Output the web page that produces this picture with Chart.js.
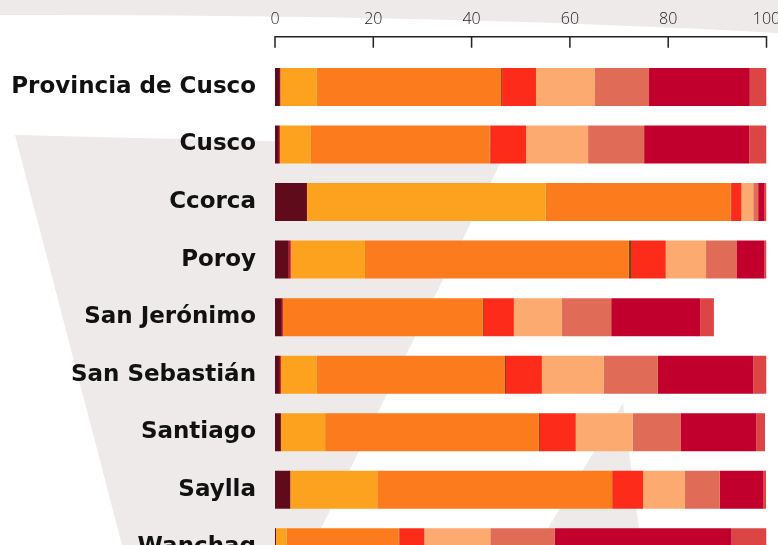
<!DOCTYPE html>
<html>
<head>
<meta charset="utf-8">
<script src="https://cdn.jsdelivr.net/npm/chart.js@4.4.0/dist/chart.umd.min.js"></script>
<style>
    html, body { margin: 0; padding: 0; background: #ffffff; overflow: hidden; }
    #barChart { display: block; }
</style>
</head>
<body>
<canvas id="barChart" width="778" height="545"></canvas>
<script>
// Données (en %)
const districts = ["Provincia de Cusco", "Cusco", "Ccorca", "Poroy", "San Jerónimo",
    "San Sebastián", "Santiago", "Saylla", "Wanchaq"];

const xTicks = [0, 20, 40, 60, 80, 100];

const serie1 = [1.0, 0.8, 6.5, 2.8, 1.4, 1.0, 1.2, 3.1, 0.2];
const serie2 = [0.1, 0.2, 0, 0.4, 0.2, 0.2, 0, 0, 0];
const serie3 = [7.4, 6.3, 48.6, 15.1, 0, 7.3, 9.0, 17.7, 2.2];
const serie4 = [37.5, 36.4, 37.6, 53.7, 40.7, 38.3, 43.5, 47.8, 22.8];
const serie5 = [0.2, 0.1, 0.1, 0.6, 0.2, 0.2, 0.2, 0, 0.1];
const serie6 = [6.9, 7.3, 2.1, 6.9, 6.1, 7.3, 7.3, 6.3, 5.1];
const serie7 = [12.0, 12.6, 2.4, 8.2, 9.8, 12.6, 11.6, 8.5, 13.4];
const serie8 = [11.0, 11.4, 1.0, 6.3, 10.0, 11.0, 9.8, 7.1, 13.1];
const serie9 = [20.5, 21.4, 1.2, 5.6, 18.1, 19.4, 15.3, 8.8, 36.0];
const serie10 = [3.4, 3.5, 0.5, 0.4, 2.8, 2.7, 1.8, 0.6, 7.1];

const couleurs = ["#600b1b", "#c8142a", "#fda21e", "#fc7b1c", "#8c3a10",
    "#fd2c1a", "#fcaa70", "#e06b56", "#c1002e", "#dd4444"];

const series = [serie1, serie2, serie3, serie4, serie5, serie6, serie7, serie8, serie9, serie10];

// Formes grises en fond
const fondPlugin = {
    id: 'fond',
    beforeDraw(chart) {
        const ctx = chart.ctx;
        ctx.save();
        ctx.fillStyle = "#efeaea";

        // bande du haut
        ctx.beginPath();
        ctx.moveTo(0, 0);
        ctx.lineTo(778, 0);
        ctx.lineTo(778, 33);
        ctx.quadraticCurveTo(440, 14, 0, 15);
        ctx.closePath();
        ctx.fill();

        // grande forme à gauche
        ctx.beginPath();
        ctx.moveTo(15, 135);
        ctx.lineTo(508, 147);
        ctx.lineTo(313, 545);
        ctx.lineTo(122, 545);
        ctx.closePath();
        ctx.fill();

        // triangle en bas
        ctx.beginPath();
        ctx.moveTo(623, 403);
        ctx.lineTo(641, 545);
        ctx.lineTo(538, 545);
        ctx.closePath();
        ctx.fill();
        ctx.restore();
    }
};

// Le bas de la zone dépasse la fenêtre : la dernière barre (Wanchaq) est coupée
const basPlugin = {
    id: 'bas',
    afterLayout(chart) {
        const bas = chart.height + 31.1;
        const y = chart.scales.y;
        y.bottom = bas;
        y.height = bas - y.top;
        y.configure();
        chart.chartArea.bottom = bas;
        chart.chartArea.height = bas - chart.chartArea.top;
    }
};

// Axe du haut avec graduations vers le bas
const axePlugin = {
    id: 'axe',
    afterDraw(chart) {
        const ctx = chart.ctx;
        const x = chart.scales.x;
        const y0 = chart.chartArea.top - 21.5;
        ctx.save();
        ctx.strokeStyle = "#222222";
        ctx.lineWidth = 1.5;
        ctx.beginPath();
        ctx.moveTo(x.getPixelForValue(0) - 0.75, y0);
        ctx.lineTo(x.getPixelForValue(100) + 0.75, y0);
        x.ticks.forEach((t) => {
            const px = x.getPixelForValue(t.value);
            ctx.moveTo(px, y0);
            ctx.lineTo(px, y0 + 11);
        });
        ctx.stroke();
        ctx.restore();
    }
};

const ctx = document.getElementById("barChart").getContext("2d");

new Chart(ctx, {
    type: 'bar',
    data: {
        labels: districts,
        datasets: series.map((d, i) => ({
            label: 'Serie ' + (i + 1),
            data: d,
            backgroundColor: couleurs[i],
            borderWidth: 0,
            barPercentage: 0.66,
            categoryPercentage: 1
        }))
    },
    options: {
        indexAxis: 'y',
        responsive: false,
        animation: false,
        layout: { padding: { left: 10, right: 11.5, top: 0, bottom: 0 } },
        plugins: {
            legend: { display: false },
            tooltip: { enabled: false }
        },
        scales: {
            x: {
                position: 'top',
                stacked: true,
                min: 0,
                max: 100,
                afterBuildTicks: (scale) => { scale.ticks = xTicks.map(v => ({ value: v })); },
                afterFit: (scale) => {
                    scale.height = 58.2;
                    scale.paddingLeft = 0;
                    scale.paddingRight = 0;
                },
                grid: { display: false, drawTicks: false },
                border: { display: false },
                ticks: {
                    padding: 29,
                    color: '#222222',
                    font: { family: 'Open Sans', size: 16, weight: '300' }
                }
            },
            y: {
                stacked: true,
                afterFit: (scale) => {
                    scale.width = 265;
                    scale.paddingTop = 0;
                    scale.paddingBottom = 0;
                },
                grid: { display: false, drawTicks: false },
                border: { display: false },
                ticks: {
                    padding: 19,
                    color: '#111111',
                    font: { family: 'DejaVu Sans', size: 23, weight: 'bold' }
                }
            }
        }
    },
    plugins: [fondPlugin, basPlugin, axePlugin]
});
</script>
</body>
</html>
